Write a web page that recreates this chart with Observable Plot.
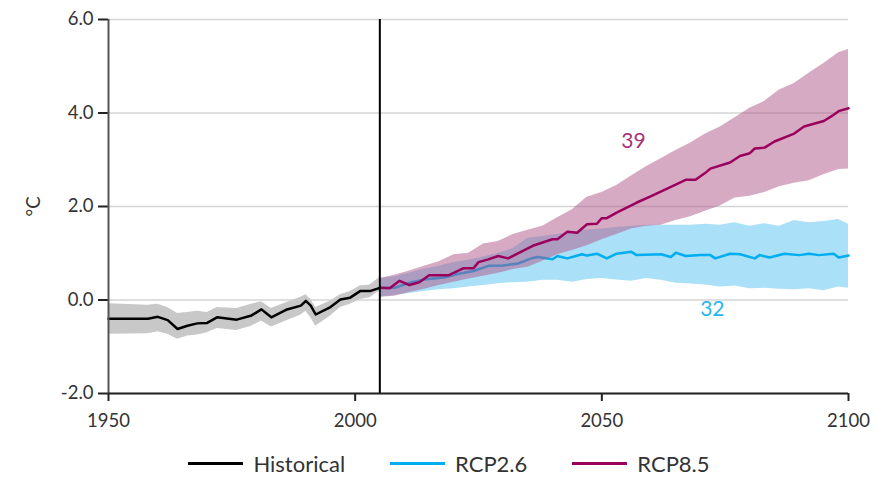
<!DOCTYPE html>
<html><head><meta charset="utf-8">
<script src="https://cdn.jsdelivr.net/npm/d3@7"></script>
<script src="https://cdn.jsdelivr.net/npm/@observablehq/plot@0.6"></script>
<style>
html,body{margin:0;padding:0;background:#fff;}
body{width:878px;height:487px;overflow:hidden;font-family:Lato,"Open Sans",sans-serif;}
#legend{display:flex;justify-content:center;align-items:center;gap:45px;padding-left:20px;height:47px;font-size:22px;color:#333;}
#legend .item{display:flex;align-items:center;gap:10px;}
#legend .sw{width:55px;height:3px;}
</style></head><body>
<div id="chart"></div>
<div id="legend"></div>
<script>
// Historical
const histYears = [1950,1958,1960,1962,1964,1966,1968,1970,1972,1976,1979,1981,1983,1986,1989,1990,1991,1992,1995,1997,1999,2001,2003,2005];
const histMean  = [-0.40,-0.40,-0.36,-0.43,-0.62,-0.55,-0.50,-0.49,-0.37,-0.42,-0.33,-0.20,-0.37,-0.21,-0.12,-0.02,-0.12,-0.31,-0.15,0.01,0.05,0.19,0.19,0.26];
const histUpper = [-0.08,-0.11,-0.09,-0.16,-0.29,-0.27,-0.24,-0.27,-0.16,-0.18,-0.09,-0.04,-0.18,-0.06,0.06,0.11,0.01,-0.16,-0.02,0.11,0.18,0.30,0.32,0.48];
const histLower = [-0.73,-0.72,-0.68,-0.73,-0.84,-0.77,-0.75,-0.70,-0.61,-0.65,-0.56,-0.45,-0.58,-0.45,-0.32,-0.24,-0.38,-0.56,-0.34,-0.16,-0.09,0.01,0.05,0.19];

// RCP8.5
const rcp85Years = [2005,2007,2009,2011,2013,2015,2019,2022,2024,2025,2027,2029,2031,2034,2036,2038,2040,2041,2043,2045,2047,2049,2050,2051,2053,2057,2060,2064,2067,2069,2071,2072,2076,2078,2080,2081,2083,2085,2089,2091,2095,2097,2098,2100];
const rcp85Mean  = [0.26,0.25,0.41,0.32,0.38,0.53,0.53,0.68,0.68,0.81,0.87,0.94,0.89,1.05,1.16,1.23,1.30,1.30,1.46,1.44,1.62,1.63,1.75,1.75,1.87,2.08,2.22,2.42,2.57,2.57,2.72,2.81,2.94,3.08,3.14,3.24,3.26,3.39,3.56,3.71,3.83,3.96,4.04,4.10];
const bandYears  = [2005,2008,2011,2014,2017,2020,2023,2026,2029,2032,2035,2038,2041,2044,2047,2050,2053,2056,2059,2062,2065,2068,2071,2074,2077,2080,2083,2086,2089,2092,2095,2098,2100];
const rcp85Upper = [0.46,0.53,0.62,0.72,0.82,0.97,1.00,1.20,1.25,1.40,1.49,1.58,1.76,1.93,2.20,2.30,2.45,2.65,2.85,3.02,3.20,3.36,3.55,3.70,3.90,4.10,4.25,4.49,4.63,4.85,5.06,5.29,5.36];
const rcp85Lower = [0.06,0.08,0.16,0.23,0.31,0.38,0.45,0.51,0.57,0.65,0.70,0.83,0.97,1.06,1.16,1.29,1.40,1.52,1.58,1.60,1.70,1.78,1.90,2.01,2.18,2.22,2.30,2.42,2.50,2.55,2.68,2.79,2.80];

// RCP2.6
const rcp26Years = [2005,2008,2011,2014,2018,2021,2024,2027,2030,2033,2036,2037,2040,2041,2043,2046,2047,2049,2051,2053,2056,2057,2062,2064,2065,2067,2070,2072,2073,2076,2078,2081,2082,2084,2087,2090,2092,2094,2097,2098,2100];
const rcp26Mean  = [0.26,0.26,0.37,0.44,0.48,0.56,0.62,0.73,0.74,0.78,0.90,0.92,0.87,0.94,0.89,0.98,0.95,0.99,0.89,0.99,1.03,0.96,0.98,0.92,1.01,0.94,0.96,0.96,0.89,0.99,0.98,0.89,0.96,0.91,0.99,0.96,0.99,0.96,0.99,0.91,0.95];
const rcp26Upper = [0.46,0.50,0.58,0.66,0.72,0.80,0.85,0.92,1.00,1.10,1.32,1.36,1.40,1.45,1.50,1.52,1.55,1.58,1.60,1.60,1.60,1.60,1.62,1.60,1.65,1.58,1.63,1.58,1.70,1.65,1.68,1.72,1.62];
const rcp26Lower = [0.06,0.10,0.14,0.18,0.22,0.24,0.28,0.31,0.35,0.37,0.38,0.42,0.42,0.38,0.44,0.46,0.43,0.40,0.46,0.42,0.36,0.34,0.32,0.28,0.30,0.24,0.25,0.23,0.22,0.24,0.20,0.28,0.25];

// Axis ticks and annotations
const xTicks = [1950,2000,2050,2100];
const yTicks = [-2,0,2,4,6];
const baseYear = [2005];
const noteText = ["39","32"];
const noteX = [2056.4,2072.4];
const noteY = [3.40,-0.19];
const noteColor = ["#a8327a","#29b5ee"];

const seriesNames = ["Historical","RCP2.6","RCP8.5"];
const seriesColors = ["#000000","#00aeef","#9c005d"];

const hist = histYears.map((x,i)=>({x, y:histMean[i], lo:histLower[i], hi:histUpper[i]}));
const r85 = rcp85Years.map((x,i)=>({x, y:rcp85Mean[i]}));
const r26 = rcp26Years.map((x,i)=>({x, y:rcp26Mean[i]}));
const b85 = bandYears.map((x,i)=>({x, lo:rcp85Lower[i], hi:rcp85Upper[i]}));
const b26 = bandYears.map((x,i)=>({x, lo:rcp26Lower[i], hi:rcp26Upper[i]}));
const notes = noteText.map((t,i)=>({t, x:noteX[i], y:noteY[i], c:noteColor[i]}));

const chart = Plot.plot({
  width: 878, height: 440,
  marginLeft: 108, marginRight: 30, marginTop: 19, marginBottom: 47,
  style: {fontFamily: "Lato, 'Open Sans', sans-serif", fontSize: "18.5px", color: "#333", background: "#fff"},
  x: {domain: [1950, 2100]},
  y: {domain: [-2, 6]},
  marks: [
    Plot.gridY(yTicks, {stroke: "#d4d4d4", strokeOpacity: 1, strokeWidth: 1.5}),
    Plot.areaY(hist, {x: "x", y1: "lo", y2: "hi", fill: "#c8c8c8"}),
    Plot.areaY(b26, {x: "x", y1: "lo", y2: "hi", fill: "#aae0f8"}),
    Plot.lineY(r26, {x: "x", y: "y", stroke: seriesColors[1], strokeWidth: 2.5}),
    Plot.areaY(b85, {x: "x", y1: "lo", y2: "hi", fill: "rgb(175,85,135)", fillOpacity: 0.5}),
    Plot.lineY(r85, {x: "x", y: "y", stroke: seriesColors[2], strokeWidth: 2.5}),
    Plot.lineY(hist, {x: "x", y: "y", stroke: seriesColors[0], strokeWidth: 2.5}),
    Plot.ruleX(baseYear, {stroke: "#000", strokeWidth: 2}),
    Plot.text(notes, {x: "x", y: "y", text: "t", fill: "c", fontSize: 21}),
    Plot.axisY(yTicks, {tickFormat: d => d.toFixed(1), tickSize: 10, tickPadding: 5, stroke: "#222", strokeWidth: 2,
      label: "°C", labelAnchor: "center", labelArrow: "none", labelOffset: 82}),
    Plot.axisX(xTicks, {tickFormat: d => String(d), tickSize: 8, tickPadding: 12, stroke: "#222", strokeWidth: 2, label: null}),
    Plot.ruleX([1950], {stroke: "#555", strokeWidth: 2}),
    Plot.ruleY([-2], {stroke: "#222", strokeWidth: 2})
  ]
});
document.getElementById("chart").appendChild(chart);

const legend = document.getElementById("legend");
seriesNames.forEach((n,i)=>{
  const it = document.createElement("div"); it.className = "item";
  const sw = document.createElement("div"); sw.className = "sw"; sw.style.background = seriesColors[i];
  const tx = document.createElement("span"); tx.textContent = n;
  it.appendChild(sw); it.appendChild(tx); legend.appendChild(it);
});
</script>
</body></html>
